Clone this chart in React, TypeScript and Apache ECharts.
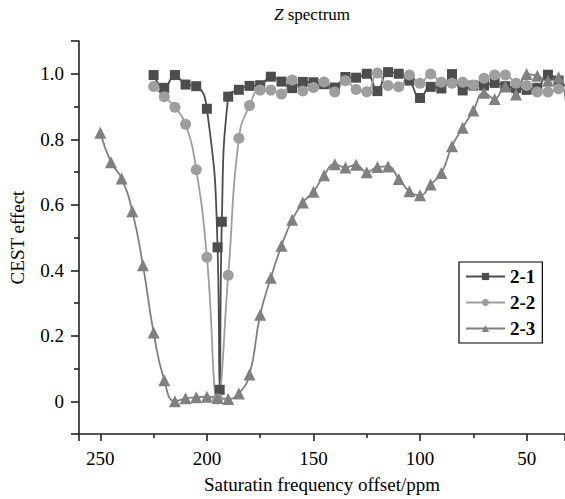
import React, { useEffect, useRef } from 'react';
import * as echarts from 'echarts';

const titleText = 'Z spectrum';
const xAxisName = 'Saturatin frequency offset/ppm';
const yAxisName = 'CEST effect';
const seriesNames = ['2-1', '2-2', '2-3'];

const offsets21 = [225, 220, 215, 210, 205, 200, 195, 194, 193, 190, 185, 180, 175, 170, 165, 160, 155, 150, 145, 140, 135, 130, 125, 120, 115, 110, 105, 100, 95, 90, 85, 80, 75, 70, 65, 60, 55, 50, 45, 40, 35, 30];
const values21 = [0.996, 0.957, 0.996, 0.967, 0.962, 0.893, 0.47, 0.035, 0.548, 0.93, 0.951, 0.963, 0.965, 0.991, 0.976, 0.956, 0.975, 0.974, 0.968, 0.958, 0.99, 0.988, 1.0, 0.947, 1.005, 1.0, 0.979, 0.926, 0.96, 0.955, 0.999, 0.949, 0.964, 0.964, 0.972, 0.962, 0.957, 0.951, 0.957, 0.997, 0.979, 0.95];

const offsets22 = [225, 220, 215, 210, 205, 200, 195, 190, 185, 180, 175, 170, 165, 160, 155, 150, 145, 140, 135, 130, 125, 120, 115, 110, 105, 100, 95, 90, 85, 80, 75, 70, 65, 60, 55, 50, 45, 40, 35];
const values22 = [0.961, 0.93, 0.898, 0.846, 0.707, 0.44, 0.007, 0.385, 0.803, 0.903, 0.95, 0.95, 0.938, 0.981, 0.947, 0.958, 0.975, 0.944, 0.979, 0.952, 0.945, 1.002, 0.964, 0.96, 0.996, 0.971, 0.999, 0.974, 0.971, 0.974, 0.966, 0.986, 0.996, 0.996, 0.971, 0.964, 0.944, 0.944, 0.954];

const offsets23 = [250, 245, 240, 235, 230, 225, 220, 215, 210, 205, 200, 195, 190, 185, 180, 175, 170, 165, 160, 155, 150, 145, 140, 135, 130, 125, 120, 115, 110, 105, 100, 95, 90, 85, 80, 75, 70, 65, 60, 55, 50, 45, 40, 35, 30];
const values23 = [0.82, 0.73, 0.68, 0.58, 0.415, 0.21, 0.064, 0.0, 0.009, 0.012, 0.014, 0.01, 0.007, 0.024, 0.082, 0.264, 0.377, 0.475, 0.554, 0.607, 0.64, 0.69, 0.724, 0.714, 0.722, 0.699, 0.715, 0.717, 0.679, 0.641, 0.629, 0.662, 0.697, 0.779, 0.835, 0.888, 0.942, 0.923, 0.961, 0.937, 0.999, 0.994, 0.979, 0.989, 0.72];

const zip = (xs: number[], ys: number[]) => xs.map((x, i) => [x, ys[i]]);

const FONT = '"Liberation Serif", "Times New Roman", serif';

export default function App() {
  const ref = useRef<HTMLDivElement>(null);
  useEffect(() => {
    if (!ref.current) return;
    const chart = echarts.init(ref.current, undefined, { renderer: 'svg' });
    const mk = (name: string, data: number[][], color: string, symbol: string, size: any, lw: number) => ({
      name,
      type: 'line',
      data,
      smooth: 0.5,
      symbol,
      symbolSize: size,
      showAllSymbol: true,
      lineStyle: { color, width: lw },
      itemStyle: { color, borderWidth: 0 },
      emphasis: { disabled: true },
    });
    const [titleItalic, ...titleRest] = titleText.split(' ');
    chart.setOption({
      animation: false,
      backgroundColor: '#fff',
      textStyle: { fontFamily: FONT },
      title: {
        text: `{i|${titleItalic}}{n| ${titleRest.join(' ')}}`,
        left: 307,
        top: 1,
        textAlign: 'center',
        textStyle: {
          fontFamily: FONT,
          fontSize: 17,
          fontWeight: 'normal',
          color: '#000',
          rich: {
            i: { fontFamily: FONT, fontSize: 17, fontStyle: 'italic', color: '#000' },
            n: { fontFamily: FONT, fontSize: 17, fontStyle: 'normal', color: '#000' },
          },
        },
      },
      legend: {
        orient: 'vertical',
        left: 459,
        top: 262,
        data: seriesNames,
        borderColor: '#000',
        borderWidth: 1.2,
        padding: [5, 7, 5, 6],
        itemWidth: 39,
        itemHeight: 9,
        itemGap: 7,
        textStyle: { fontFamily: FONT, fontSize: 19, fontWeight: 'bold', color: '#000' },
      },
      grid: { left: 79, right: 0, top: 41, bottom: 62, containLabel: false },
      xAxis: {
        type: 'value',
        inverse: true,
        min: 32,
        max: 260,
        name: xAxisName,
        nameLocation: 'middle',
        nameGap: 41,
        nameTextStyle: { fontFamily: FONT, fontSize: 19, color: '#000' },
        axisLine: { show: true, onZero: false, lineStyle: { color: '#222', width: 1.6 } },
        axisTick: { show: true, inside: false, length: 7, lineStyle: { color: '#222', width: 1.6 } },
        minorTick: { show: true, splitNumber: 2, length: 4, lineStyle: { color: '#222', width: 1.6 } },
        axisLabel: { fontFamily: FONT, fontSize: 19, color: '#000', margin: 15, showMinLabel: false, showMaxLabel: false },
        splitLine: { show: false },
      },
      yAxis: {
        type: 'value',
        min: -0.1,
        max: 1.1,
        name: yAxisName,
        nameLocation: 'middle',
        nameGap: 52,
        nameTextStyle: { fontFamily: FONT, fontSize: 19, color: '#000' },
        axisLine: { show: true, onZero: false, lineStyle: { color: '#222', width: 1.6 } },
        axisTick: { show: true, inside: false, length: 8, lineStyle: { color: '#222', width: 1.6 } },
        minorTick: { show: true, splitNumber: 2, length: 5, lineStyle: { color: '#222', width: 1.6 } },
        axisLabel: {
          fontFamily: FONT,
          fontSize: 19,
          color: '#000',
          margin: 15,
          showMinLabel: false,
          showMaxLabel: false,
          formatter: (v: number) => (Math.abs(v) < 1e-9 ? '0' : v.toFixed(1)),
        },
        splitLine: { show: false },
      },
      series: [
        mk(seriesNames[0], zip(offsets21, values21), '#4d4d4d', 'rect', 10, 1.8),
        mk(seriesNames[1], zip(offsets22, values22), '#9e9e9e', 'circle', 11, 1.8),
        mk(seriesNames[2], zip(offsets23, values23), '#808080', 'triangle', 12, 1.8),
      ],
    });
    return () => chart.dispose();
  }, []);
  return (
    <div
      ref={ref}
      style={{ position: 'absolute', left: 0, top: 0, width: 565, height: 499, background: '#fff' }}
    />
  );
}
